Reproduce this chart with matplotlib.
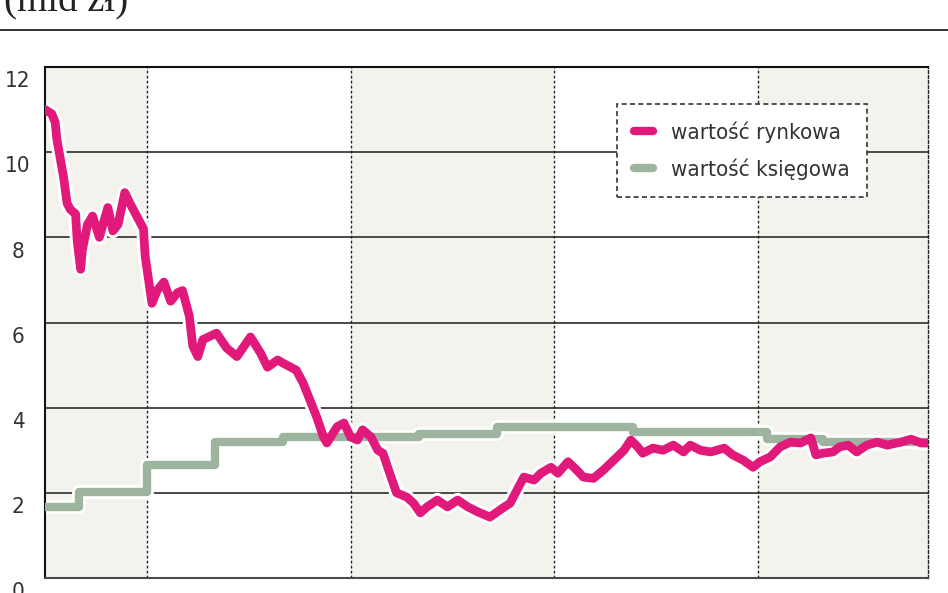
import matplotlib
matplotlib.use("Agg")
import matplotlib.pyplot as plt
from matplotlib.lines import Line2D
from matplotlib import font_manager as fm
from matplotlib.transforms import ScaledTranslation

# ---------------- data ----------------
title_text = "(mld zł)"
series_names = ["wartość rynkowa", "wartość księgowa"]

# months since start of the chart (year boundaries at 6, 18, 30, 42)
year_bounds = [6, 18, 30, 42]
x_end = 52

market_month = [0.0, 0.4, 0.6, 0.7, 1.1, 1.3, 1.5, 1.8, 1.9, 2.1, 2.2, 2.5, 2.8, 3.2, 3.7,
                4.0, 4.3, 4.7, 5.0, 5.4, 5.8, 5.9, 6.1, 6.3, 6.6, 7.0, 7.4, 7.8, 8.1, 8.5,
                8.7, 9.0, 9.3, 10.1, 10.7, 11.3, 12.1, 12.7, 13.1, 13.7, 14.0, 14.8, 15.2,
                15.6, 16.0, 16.4, 16.6, 17.2, 17.6, 18.0, 18.4, 18.7, 19.2, 19.6, 19.9,
                20.3, 20.7, 21.3, 21.7, 22.1, 22.5, 23.1, 23.7, 24.3, 24.9, 25.5, 26.2,
                26.8, 27.4, 27.8, 28.2, 28.8, 29.2, 29.8, 30.2, 30.8, 31.3, 31.7, 32.3,
                32.9, 33.5, 34.1, 34.5, 34.9, 35.2, 35.8, 36.4, 37.0, 37.6, 38.0, 38.6,
                39.2, 40.0, 40.5, 41.1, 41.7, 42.1, 42.7, 43.3, 43.9, 44.5, 45.1, 45.4,
                45.8, 46.4, 46.8, 47.3, 47.8, 48.4, 49.0, 49.6, 50.4, 51.0, 51.6, 52.0]
market_value = [11.0, 10.9, 10.7, 10.3, 9.4, 8.8, 8.65, 8.55, 7.9, 7.25, 7.7, 8.3, 8.5, 8.0, 8.7,
                8.15, 8.3, 9.05, 8.8, 8.5, 8.2, 7.55, 7.0, 6.45, 6.75, 6.95, 6.5, 6.7, 6.75, 6.15,
                5.45, 5.2, 5.6, 5.75, 5.4, 5.2, 5.66, 5.28, 4.95, 5.12, 5.05, 4.88, 4.58,
                4.18, 3.78, 3.31, 3.17, 3.55, 3.64, 3.31, 3.24, 3.48, 3.31, 3.0, 2.93,
                2.46, 2.0, 1.9, 1.76, 1.53, 1.67, 1.83, 1.67, 1.83, 1.67, 1.55, 1.43,
                1.6, 1.76, 2.07, 2.37, 2.3, 2.46, 2.6, 2.46, 2.73, 2.54, 2.37, 2.34,
                2.54, 2.77, 3.0, 3.24, 3.08, 2.93, 3.05, 3.0, 3.12, 2.96, 3.12, 3.0,
                2.96, 3.05, 2.89, 2.77, 2.6, 2.73, 2.84, 3.08, 3.19, 3.17, 3.29, 2.89,
                2.93, 2.96, 3.08, 3.12, 2.96, 3.12, 3.19, 3.12, 3.19, 3.26, 3.17, 3.17]

book_month = [0, 2, 6, 10, 14, 22, 26.6, 34.6, 42.5, 45.8, 52]
book_value = [1.67, 2.02, 2.65, 3.2, 3.31, 3.38, 3.55, 3.43, 3.26, 3.2, 3.2]

y_ticks = [0, 2, 4, 6, 8, 10, 12]

# ---------------- style ----------------
MAGENTA = "#e0197b"
GREEN = "#9db59f"
BAND = "#f3f2ec"
GRID = "#3c3c3c"

names = {f.name for f in fm.fontManager.ttflist}
if "Liberation Sans Narrow" in names:
    COND, STRETCH = "Liberation Sans Narrow", "normal"
else:
    COND, STRETCH = "DejaVu Sans", "condensed"

W, H = 948, 593
fig = plt.figure(figsize=(W / 100, H / 100), dpi=100)
fig.patch.set_facecolor("white")
ax = fig.add_axes([45 / W, 1 - 578 / H, (928 - 45) / W, (578 - 67) / H])
ax.set_xlim(0, x_end)
ax.set_ylim(0, 12)
ax.set_facecolor("white")

# shaded bands (every other year)
edges = [0] + year_bounds + [x_end]
for i in range(0, len(edges) - 1, 2):
    ax.axvspan(edges[i], edges[i + 1], color=BAND, lw=0, zorder=0)

for y in y_ticks[1:-1]:
    ax.axhline(y, color=GRID, lw=1.3, zorder=1)
for xb in year_bounds:
    ax.axvline(xb, color="#222222", lw=1.0, ls=(0, (2, 1.6)), zorder=1.5)

for s in ["left", "top"]:
    ax.spines[s].set_color("#111111")
    ax.spines[s].set_linewidth(1.5)
ax.spines["bottom"].set_color("#4a4a4a")
ax.spines["bottom"].set_linewidth(1.5)
ax.spines["right"].set_color("#222222")
ax.spines["right"].set_linewidth(1.0)
ax.spines["right"].set_linestyle((0, (2, 1.6)))

# white halos (knock out grid lines around the series)
ax.plot(book_month, book_value, drawstyle="steps-post", color="white", lw=10,
        solid_capstyle="butt", zorder=2.5)
ax.plot(market_month, market_value, color="white", lw=10.5, solid_joinstyle="round",
        solid_capstyle="round", zorder=2.5)

l_book, = ax.plot(book_month, book_value, drawstyle="steps-post", color=GREEN, lw=6.0,
                  solid_capstyle="round", solid_joinstyle="round", zorder=3)
l_market, = ax.plot(market_month, market_value, color=MAGENTA, lw=6.3,
                    solid_capstyle="round", solid_joinstyle="round", zorder=4)

ax.set_xticks([])
ax.set_yticks(y_ticks)
ax.set_yticklabels([str(t) for t in y_ticks])
ax.tick_params(axis="y", length=0, pad=19.4, labelsize=16, labelcolor="#333333")
off = ScaledTranslation(0, -3 / 72, fig.dpi_scale_trans)
for lab in ax.get_yticklabels():
    lab.set_horizontalalignment("center")
    lab.set_verticalalignment("top")
    lab.set_family(COND)
    lab.set_stretch(STRETCH)
    lab.set_transform(lab.get_transform() + off)

h_market = Line2D([], [], color=MAGENTA, lw=6.0, solid_capstyle="round")
h_book = Line2D([], [], color=GREEN, lw=6.0, solid_capstyle="round")
leg = ax.legend([h_market, h_book], series_names, loc="upper left",
                bbox_to_anchor=(617 / W, 1 - 104 / H), bbox_transform=fig.transFigure,
                frameon=True, fancybox=False, edgecolor="#333333", facecolor="white",
                framealpha=1, prop=dict(family=COND, size=16, stretch=STRETCH),
                handlelength=0.85, handletextpad=0.8, borderpad=0.78, labelspacing=0.71,
                borderaxespad=0)
leg.get_frame().set_linestyle((0, (3, 2)))
leg.get_frame().set_linewidth(1.2)
leg.set_zorder(10)
for t in leg.get_texts():
    t.set_color("#333333")

# header rule and (mostly clipped) unit text
fig.add_artist(Line2D([0, 1], [1 - 30 / H, 1 - 30 / H], transform=fig.transFigure,
                      color="#222222", lw=1.3))
fig.text(4 / W, 1 - 11.5 / H, title_text, family=["Liberation Serif", "DejaVu Serif"],
         fontsize=28, va="baseline", ha="left", color="#222222")

fig.savefig("out.png", dpi=100)
